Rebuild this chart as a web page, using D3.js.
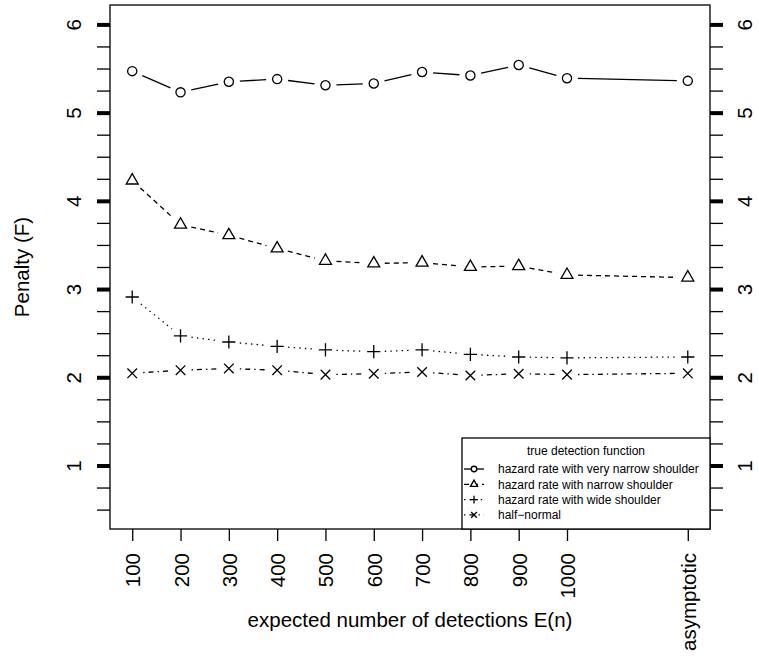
<!DOCTYPE html>
<html>
<head>
<meta charset="UTF-8">
<title>Penalty by expected number of detections</title>
<style>
  body { margin: 0; background: #fff; }
  svg { display: block; font-family: "Liberation Sans", Arial, sans-serif; }
</style>
</head>
<body>
<svg id="chart"></svg>
<script src="https://d3js.org/d3.v7.min.js"></script>
<script>
// x categories (asymptotic is drawn a bit further right)
let xLabels = ["100", "200", "300", "400", "500", "600", "700", "800", "900", "1000", "asymptotic"];
let xValues = [100, 200, 300, 400, 500, 600, 700, 800, 900, 1000, 1250];
let yTicks = [1, 2, 3, 4, 5, 6];
let yMinor = [0.5, 0.75, 1.25, 1.5, 1.75, 2.25, 2.5, 2.75, 3.25, 3.5, 3.75, 4.25, 4.5, 4.75, 5.25, 5.5, 5.75];

// penalty values per detection function
let veryNarrow = [5.47, 5.23, 5.35, 5.38, 5.31, 5.33, 5.46, 5.42, 5.54, 5.39, 5.36];
let narrow     = [4.23, 3.73, 3.61, 3.46, 3.32, 3.29, 3.30, 3.25, 3.26, 3.16, 3.13];
let wide       = [2.91, 2.47, 2.40, 2.35, 2.31, 2.29, 2.31, 2.26, 2.23, 2.22, 2.23];
let halfNormal = [2.045, 2.08, 2.10, 2.08, 2.03, 2.04, 2.06, 2.02, 2.04, 2.03, 2.045];

let seriesNames = ["hazard rate with very narrow shoulder", "hazard rate with narrow shoulder",
                   "hazard rate with wide shoulder", "half\u2212normal"];
let legendTitle = "true detection function";

let width = 759, height = 659;
let box = {left: 110, right: 710, top: 5, bottom: 529};

let svg = d3.select("#chart").attr("width", width).attr("height", height);

let x = d3.scaleLinear().domain([54, 1296]).range([box.left, box.right]);
let y = d3.scaleLinear().domain([0.28, 6.22]).range([box.bottom, box.top]);

// marker shapes, s = size factor
function marker(g, type, s) {
  if (type == "circle") {
    g.append("circle").attr("r", 4.6 * s).attr("fill", "white");
  } else if (type == "triangle") {
    let xc = 4.45 * s;
    g.append("path").attr("fill", "white")
      .attr("d", `M0,${-1.555 * xc}L${1.347 * xc},${0.778 * xc}L${-1.347 * xc},${0.778 * xc}Z`);
  } else if (type == "plus") {
    let a = 6.6 * s;
    g.append("path").attr("fill", "none").attr("d", `M${-a},0H${a}M0,${-a}V${a}`);
  } else {
    let a = 4.8 * s;
    g.append("path").attr("fill", "none").attr("d", `M${-a},${-a}L${a},${a}M${-a},${a}L${a},${-a}`);
  }
}

let series = [
  {name: seriesNames[0], values: veryNarrow, shape: "circle", dash: null},
  {name: seriesNames[1], values: narrow, shape: "triangle", dash: "5,4"},
  {name: seriesNames[2], values: wide, shape: "plus", dash: "1.4,4.2"},
  {name: seriesNames[3], values: halfNormal, shape: "cross", dash: "1.4,4,5,4"}
];

let gap = 11;
let plot = svg.append("g").attr("stroke", "black").attr("stroke-width", 1.3);

series.forEach(s => {
  let pts = s.values.map((v, i) => [x(xValues[i]), y(v)]);
  // type "b": segments broken around each point
  let segs = [];
  for (let i = 0; i < pts.length - 1; i++) {
    let [x0, y0] = pts[i], [x1, y1] = pts[i + 1];
    let d = Math.hypot(x1 - x0, y1 - y0);
    if (d > 2 * gap) {
      let ux = (x1 - x0) / d, uy = (y1 - y0) / d;
      segs.push([[x0 + ux * gap, y0 + uy * gap], [x1 - ux * gap, y1 - uy * gap]]);
    }
  }
  plot.append("g").selectAll("line").data(segs).enter().append("line")
    .attr("x1", d => d[0][0]).attr("y1", d => d[0][1])
    .attr("x2", d => d[1][0]).attr("y2", d => d[1][1])
    .attr("stroke-dasharray", s.dash);
  plot.append("g").selectAll("g").data(pts).enter().append("g")
    .attr("transform", d => `translate(${d[0]},${d[1]})`)
    .each(function() { marker(d3.select(this), s.shape, 1); });
});

// axes
function styleAxis(g, w) {
  g.select(".domain").remove();
  g.selectAll("line").attr("stroke", "black").attr("stroke-width", w);
}

svg.append("g").attr("transform", `translate(${box.left},0)`)
  .call(d3.axisLeft(y).tickValues(yMinor).tickSize(13).tickFormat(""))
  .call(g => styleAxis(g, 1.3));
svg.append("g").attr("transform", `translate(${box.right},0)`)
  .call(d3.axisRight(y).tickValues(yMinor).tickSize(13).tickFormat(""))
  .call(g => styleAxis(g, 1.3));

svg.append("g").attr("transform", `translate(${box.left},0)`)
  .call(d3.axisLeft(y).tickValues(yTicks).tickSize(13).tickFormat(d3.format("d")))
  .call(g => styleAxis(g, 4))
  .call(g => g.selectAll("text").attr("x", null).attr("dy", null)
    .attr("transform", "translate(-29,0) rotate(-90)").attr("text-anchor", "middle")
    .attr("fill", "black").attr("font-size", 20.5).attr("font-family", "Liberation Sans, Arial, sans-serif"));

svg.append("g").attr("transform", `translate(${box.right},0)`)
  .call(d3.axisRight(y).tickValues(yTicks).tickSize(13).tickFormat(d3.format("d")))
  .call(g => styleAxis(g, 4))
  .call(g => g.selectAll("text").attr("x", null).attr("dy", null)
    .attr("transform", "translate(42,0) rotate(-90)").attr("text-anchor", "middle")
    .attr("fill", "black").attr("font-size", 20.5).attr("font-family", "Liberation Sans, Arial, sans-serif"));

svg.append("g").attr("transform", `translate(0,${box.bottom})`)
  .call(d3.axisBottom(x).tickValues(xValues).tickSize(12).tickFormat((d, i) => xLabels[i]))
  .call(g => styleAxis(g, 1.3))
  .call(g => g.selectAll("text").attr("y", null).attr("dy", null)
    .attr("transform", "translate(7.5,24) rotate(-90)").attr("text-anchor", "end")
    .attr("fill", "black").attr("font-size", 20.5).attr("font-family", "Liberation Sans, Arial, sans-serif"));

// plot frame
svg.append("rect")
  .attr("x", box.left).attr("y", box.top)
  .attr("width", box.right - box.left).attr("height", box.bottom - box.top)
  .attr("fill", "none").attr("stroke", "black").attr("stroke-width", 1.3);

// axis titles
svg.append("text")
  .attr("x", (box.left + box.right) / 2).attr("y", 627)
  .attr("text-anchor", "middle").attr("font-size", 20.5)
  .text("expected number of detections E(n)");
svg.append("text")
  .attr("transform", `translate(29,${(box.top + box.bottom) / 2}) rotate(-90)`)
  .attr("text-anchor", "middle").attr("font-size", 20.5)
  .text("Penalty (F)");

// legend, bottom right corner
let leg = svg.append("g");
leg.append("rect")
  .attr("x", 462).attr("y", 438).attr("width", box.right - 462).attr("height", box.bottom - 438)
  .attr("fill", "white").attr("stroke", "black").attr("stroke-width", 1.3);
leg.append("text")
  .attr("x", (462 + box.right) / 2).attr("y", 455)
  .attr("text-anchor", "middle").attr("font-size", 12)
  .text(legendTitle);

let rows = leg.selectAll(".row").data(series).enter().append("g")
  .attr("class", "row")
  .attr("transform", (d, i) => `translate(0,${469 + i * 15.3})`);
rows.append("line")
  .attr("x1", 464).attr("x2", 484)
  .attr("stroke", "black").attr("stroke-width", 1.3)
  .attr("stroke-dasharray", d => d.dash);
rows.append("g")
  .attr("transform", "translate(474,0)")
  .attr("stroke", "black").attr("stroke-width", 1.3)
  .each(function(d) { marker(d3.select(this), d.shape, 0.6); });
rows.append("text")
  .attr("x", 498).attr("y", 4.3)
  .attr("font-size", 12)
  .text(d => d.name);
</script>
</body>
</html>
